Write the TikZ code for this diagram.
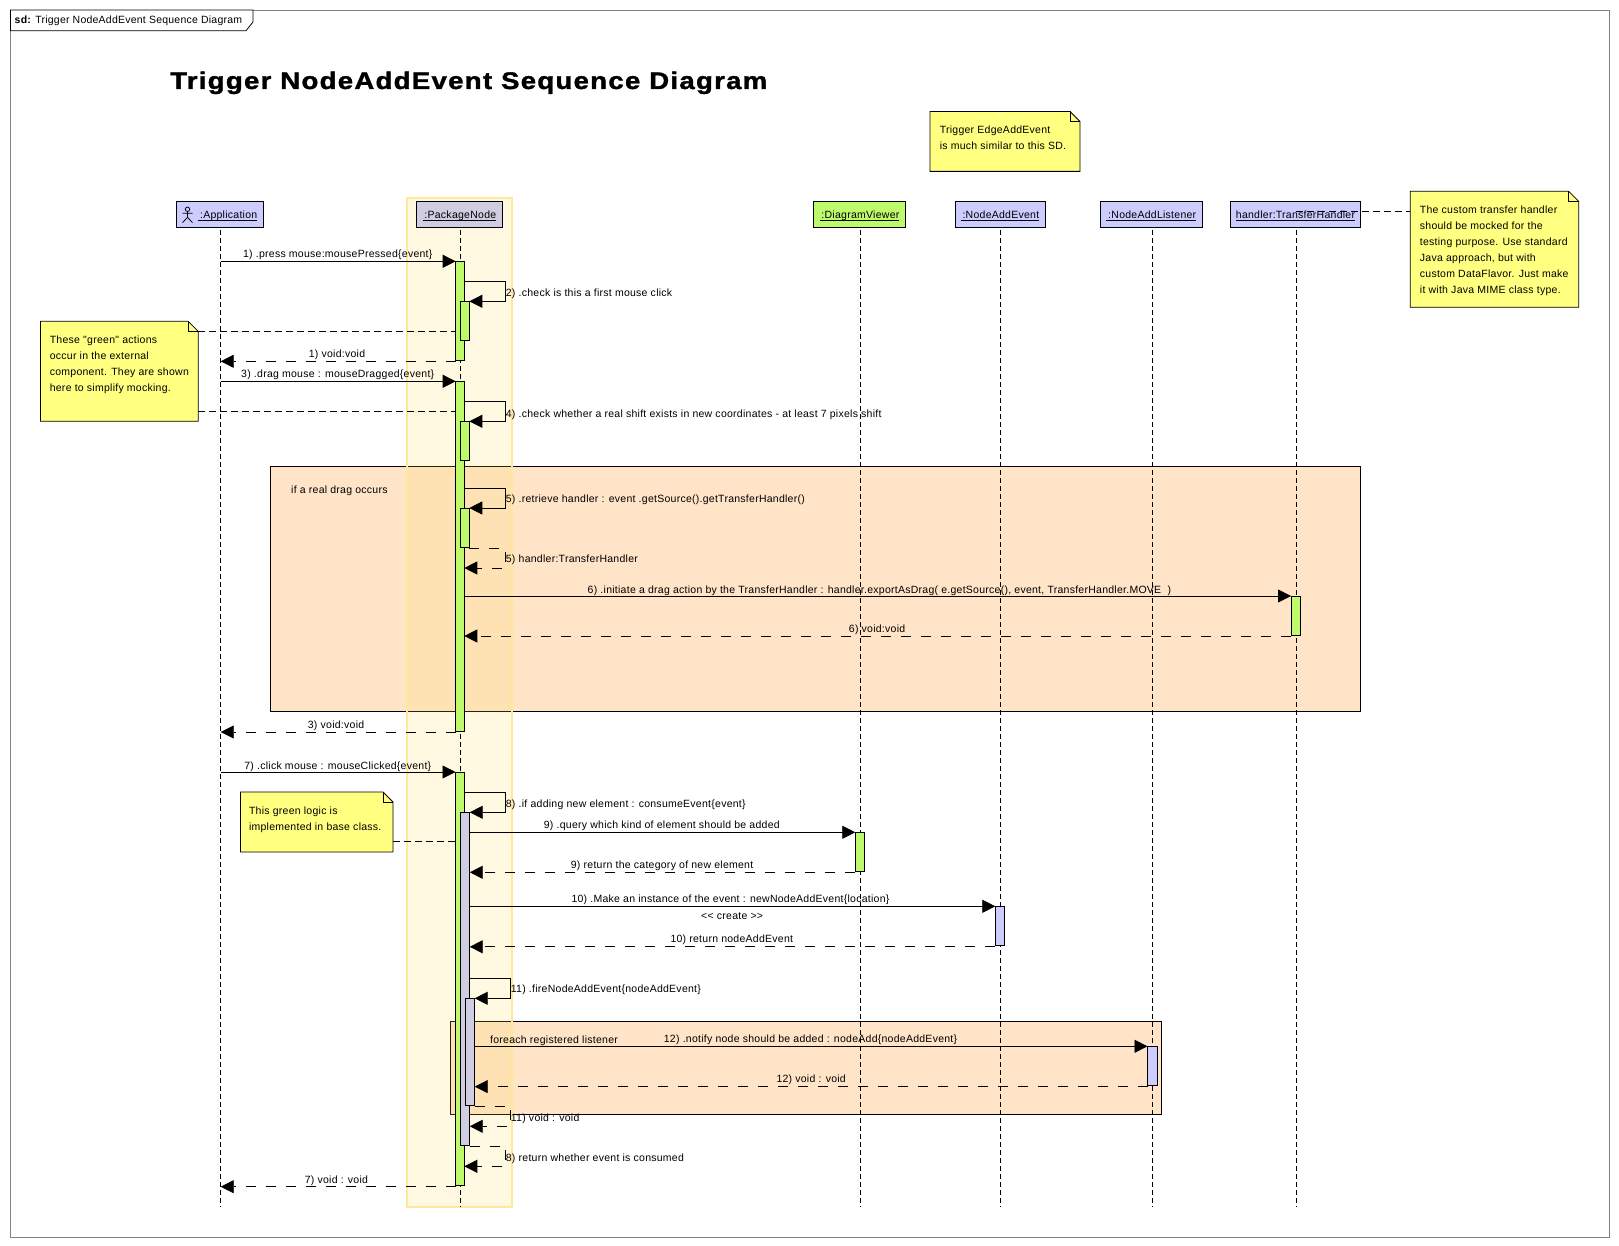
\documentclass[tikz,border=0pt]{standalone}
\usepackage{fontspec}
\setmainfont{Liberation Sans}
\usetikzlibrary{arrows.meta,calc}
\definecolor{noteY}{HTML}{FFFF80}
\definecolor{actG}{HTML}{BEFA6C}
\definecolor{actL}{HTML}{CCCCFF}
\definecolor{actP}{HTML}{D0CCE2}
\definecolor{frag}{HTML}{FFE4C8}
\definecolor{bandF}{HTML}{FFDC50}
\definecolor{bandB}{HTML}{FFE89A}
\newfontfamily\lblfont[LetterSpace=2.5]{Liberation Sans}
\newfontfamily\tabfont[LetterSpace=2.2]{Liberation Sans}
\newfontfamily\titlefont[LetterSpace=5.3,FakeStretch=1.15,FakeBold=1.5]{Liberation Sans Bold}
\tikzset{
  lbl/.style={anchor=base west,inner sep=0pt,yshift=-1pt,font=\fontsize{10.5}{12}\lblfont},
  notetxt/.style={anchor=north west,inner sep=0pt,align=left,yshift=-3.5pt,font=\fontsize{10.5}{16}\lblfont},
  head/.style={draw,line width=.8pt,inner sep=0pt,outer sep=0pt,anchor=north west,minimum height=26pt,text height=9pt,text depth=0pt,font=\fontsize{10.5}{12}\lblfont},
  actbar/.style={draw,line width=.8pt,inner sep=0pt,outer sep=0pt,anchor=north west},
  lifeline/.style={line width=.8pt,dash pattern=on 5pt off 3pt},
  msg/.style={line width=.8pt,-{Triangle[length=13pt,width=13pt]}},
  retn/.style={line width=.8pt,transform canvas={yshift=-1pt},dash pattern=on 10pt off 10pt,-{Triangle[length=13pt,width=13pt]}},
  notelink/.style={line width=.8pt,dash pattern=on 7pt off 4pt},
  fragbox/.style={draw,line width=.8pt,fill=frag,inner sep=0pt,outer sep=0pt,anchor=north west},
  notebody/.style={inner sep=0pt,outer sep=0pt,anchor=north west},
}
\newcommand{\ulbl}[1]{\underline{\smash{#1}}}
\newcommand{\actbar}[6]{\node[actbar,fill=#6,minimum width={(#4-#2)*1pt},minimum height={(#5-#3)*1pt}] (#1) at (#2,#3) {};}
\newcommand{\headbox}[5]{\node[head,fill=#4,minimum width={(#3-#2)*1pt}] (#1) at (#2,201.3) {#5};}
\newcommand{\notebox}[5]{%
  \node[notebody,minimum width={(#4-#2)*1pt},minimum height={(#5-#3)*1pt}] (#1) at (#2,#3) {};
  \draw[line width=.8pt,fill=noteY] (#1.north west) -- ($(#1.north east)+(-10,0)$) -- ($(#1.north east)+(0,10)$) -- (#1.south east) -- (#1.south west) -- cycle;
  \draw[line width=.8pt] ($(#1.north east)+(-10,0)$) -- ($(#1.north east)+(-10,10)$) -- ($(#1.north east)+(0,10)$);}
\newcommand{\selfcall}[3]{%
  \coordinate (tmpA) at ($(#2.north east)+(0,-20)$);
  \draw[msg] (#1.east |- tmpA) -- (#3,0 |- tmpA) -- (#3,0 |- #2.north) -- (#2.north east);}
\newcommand{\selfret}[3]{%
  \coordinate (tmpB) at ($(#1.south east)+(0,20)$);
  \draw[retn] (#1.south east) -- (#3,0 |- #1.south) -- (#3,0 |- tmpB) -- (#2.east |- tmpB);}
\begin{document}
\begin{tikzpicture}[x=1pt,y=-1pt]
\useasboundingbox (0,0) rectangle (1619,1246);
\fill[white] (0,0) rectangle (1619,1246);
% frame
\node[draw=black!50,line width=.9pt,inner sep=0pt,outer sep=0pt,anchor=north west,minimum width=1599pt,minimum height=1227pt] (frame) at (10.5,10) {};
\draw[fill=white,line width=.8pt] (10.5,10) -- (253,10) -- (253,22) -- (246,30.7) -- (10.5,30.7) -- cycle;
\node[anchor=base west,inner sep=0pt,font=\fontsize{10.5}{12}\tabfont] (tabtxt) at (14.5,24) {\textbf{sd:} Trigger NodeAddEvent Sequence Diagram};
\node[anchor=base west,inner sep=0pt,font=\fontsize{24}{28}\titlefont] (title) at (170,89) {Trigger NodeAddEvent Sequence Diagram};
% fragments
\node[fragbox,minimum width=1090pt,minimum height=245pt] (fragA) at (270.5,466.3) {};
\node[fragbox,minimum width=711.3pt,minimum height=93pt] (fragB) at (450.3,1021.3) {};
% band
\node[inner sep=0pt,outer sep=0pt,anchor=north west,minimum width=104.5pt,minimum height=1008.7pt,fill=bandF,fill opacity=.16,draw=bandB,draw opacity=1,line width=2pt] (band) at (407.4,198.3) {};
% lifeline coordinates
\coordinate (LA) at (220.7,1207);
\coordinate (LP) at (460.5,1207);
\coordinate (LD) at (860.7,1207);
\coordinate (LE) at (1000,1207);
\coordinate (LL) at (1152.3,1207);
\coordinate (LT) at (1296.3,1207);
% heads
\headbox{hA}{176.4}{263.6}{actL}{\hspace*{21.6pt}\ulbl{\,:Application}\hspace*{6pt}}
\headbox{hP}{416.4}{502.5}{actP}{\ulbl{\,:PackageNode}}
\headbox{hD}{813.6}{905.5}{actG}{\ulbl{\,:DiagramViewer}}
\headbox{hE}{955}{1045}{actL}{\ulbl{\,:NodeAddEvent}}
\headbox{hL}{1100}{1202.7}{actL}{\ulbl{\,:NodeAddListener}}
\coordinate (linkT) at (1296.3,211.3);
\headbox{hT}{1230.3}{1360.7}{actL}{\ulbl{handler:TransferHandler}}
% stick figure
\coordinate (stick) at (187.5,209.3);
\draw[line width=.8pt] (stick) circle (2.2pt);
\draw[line width=.8pt] ($(stick)+(0,2.2)$) -- ($(stick)+(0,8)$) -- ($(stick)+(-5,13.4)$) ($(stick)+(0,8)$) -- ($(stick)+(5,13.4)$) ($(stick)+(-5,4)$) -- ($(stick)+(5,4)$);
% lifelines
\draw[lifeline] ($(LA |- hA.south)+(0,3)$) -- (LA);
\draw[lifeline] ($(LP |- hP.south)+(0,3)$) -- (LP);
\draw[lifeline] ($(LD |- hD.south)+(0,3)$) -- (LD);
\draw[lifeline] ($(LE |- hE.south)+(0,3)$) -- (LE);
\draw[lifeline] ($(LL |- hL.south)+(0,3)$) -- (LL);
\draw[lifeline] ($(LT |- hT.south)+(0,3)$) -- (LT);
% notes
\notebox{nTop}{930}{111.5}{1080}{171.4}
\node[notetxt] (nTopT) at (939.6,122) {Trigger EdgeAddEvent\\is much similar to this SD.};
\notebox{nRight}{1410.3}{191.3}{1578.7}{307.3}
\node[notetxt] (nRightT) at (1419.7,202.5) {The custom transfer handler\\should be mocked for the\\testing purpose. Use standard\\Java approach, but with\\custom DataFlavor. Just make\\it with Java MIME class type.};
\notebox{nExt}{40.4}{321.3}{198.2}{421.3}
\node[notetxt] (nExtT) at (49.6,332.5) {These "green" actions\\occur in the external\\component. They are shown\\here to simplify mocking.};
\notebox{nBase}{240.5}{792}{393}{852}
\node[notetxt] (nBaseT) at (248.8,802.7) {This green logic is\\implemented in base class.};
% activations
\actbar{a1}{455.7}{261.3}{464.3}{360.3}{actG}
\actbar{a2}{460.3}{301.3}{469.3}{340.3}{actG}
\actbar{a3}{455.7}{381.3}{464.3}{731}{actG}
\actbar{a4}{460.3}{421.3}{469.3}{460.3}{actG}
\actbar{a5}{460.3}{508}{469.3}{547}{actG}
\actbar{a6}{1291}{596}{1300.3}{635}{actG}
\actbar{a7}{455.5}{772}{464.3}{1185.7}{actG}
\actbar{a8}{460.3}{812.3}{469.7}{1145.3}{actP}
\actbar{a9}{855.3}{832.3}{864.7}{871.3}{actG}
\actbar{a10}{995.3}{906.3}{1004.7}{945.8}{actL}
\actbar{a11}{465.3}{998.3}{474.7}{1105.3}{actP}
\actbar{a12}{1147.5}{1046.3}{1157}{1085.6}{actL}
% note links
\draw[notelink] (linkT) -- (nRight.west |- linkT);
\coordinate (k1) at (198.2,331.3);
\draw[notelink] (k1) -- (a1.west |- k1);
\coordinate (k2) at (198.2,411.3);
\draw[notelink] (k2) -- (a3.west |- k2);
\coordinate (k3) at (393,841.3);
\draw[notelink] (k3) -- (a7.west |- k3);
% messages
\draw[msg] (LA |- a1.north) -- (a1.north west);
\selfcall{a1}{a2}{505.7}
\draw[retn] (a1.south west) -- (LA |- a1.south);
\draw[msg] (LA |- a3.north) -- (a3.north west);
\selfcall{a3}{a4}{505.7}
\selfcall{a3}{a5}{505.7}
\selfret{a5}{a3}{505.7}
\draw[msg] (a3.east |- a6.north) -- (a6.north west);
\draw[retn] (a6.south west) -- (a3.east |- a6.south);
\draw[retn] (a3.south west) -- (LA |- a3.south);
\draw[msg] (LA |- a7.north) -- (a7.north west);
\selfcall{a7}{a8}{505.7}
\draw[msg] (a8.east |- a9.north) -- (a9.north west);
\draw[retn] (a9.south west) -- (a8.east |- a9.south);
\draw[msg] (a8.east |- a10.north) -- (a10.north west);
\draw[retn] (a10.south west) -- (a8.east |- a10.south);
\selfcall{a8}{a11}{510.7}
\draw[msg] (a11.east |- a12.north) -- (a12.north west);
\draw[retn] (a12.south west) -- (a11.east |- a12.south);
\selfret{a11}{a8}{510.7}
\selfret{a8}{a7}{505.7}
\draw[retn] (a7.south west) -- (LA |- a7.south);
% labels
\node[lbl] (t1) at (242.9,256.7) {1) .press mouse:mousePressed\{event\}};
\node[lbl] (t2) at (505.7,296) {2) .check is this a first mouse click};
\node[lbl] (t1r) at (308.6,356.7) {1) void:void};
\node[lbl] (t3) at (241,376.7) {3) .drag mouse : mouseDragged\{event\}};
\node[lbl] (t4) at (505.7,416) {4) .check whether a real shift exists in new coordinates - at least 7 pixels shift};
\node[lbl] (tif) at (291,492) {if a real drag occurs};
\node[lbl] (t5) at (505.7,501.5) {5) .retrieve handler : event .getSource().getTransferHandler()};
\node[lbl] (t5r) at (505.7,561.5) {5) handler:TransferHandler};
\node[lbl] (t6) at (587.5,592) {6) .initiate a drag action by the TransferHandler : handler.exportAsDrag( e.getSource(), event, TransferHandler.MOVE\ \ )};
\node[lbl] (t6r) at (848.7,631) {6) void:void};
\node[lbl] (t3r) at (307.7,727) {3) void:void};
\node[lbl] (t7) at (244.2,768) {7) .click mouse : mouseClicked\{event\}};
\node[lbl] (t8) at (505.7,806.7) {8) .if adding new element : consumeEvent\{event\}};
\node[lbl] (t9) at (543.7,827.7) {9) .query which kind of element should be added};
\node[lbl] (t9r) at (570.7,867.7) {9) return the category of new element};
\node[lbl] (t10) at (571.3,901.7) {10) .Make an instance of the event : newNodeAddEvent\{location\}};
\node[lbl] (tcr) at (701,918.3) {<< create >>};
\node[lbl] (t10r) at (670.3,941.7) {10) return nodeAddEvent};
\node[lbl] (t11) at (510.7,991.7) {11) .fireNodeAddEvent\{nodeAddEvent\}};
\node[lbl] (tfe) at (490,1042.7) {foreach registered listener};
\node[lbl] (t12) at (663.7,1041.7) {12) .notify node should be added : nodeAdd\{nodeAddEvent\}};
\node[lbl] (t12r) at (776.3,1081.7) {12) void : void};
\node[lbl] (t11r) at (510.7,1120) {11) void : void};
\node[lbl] (t8r) at (505.7,1160) {8) return whether event is consumed};
\node[lbl] (t7r) at (304.6,1182) {7) void : void};
\end{tikzpicture}
\end{document}
